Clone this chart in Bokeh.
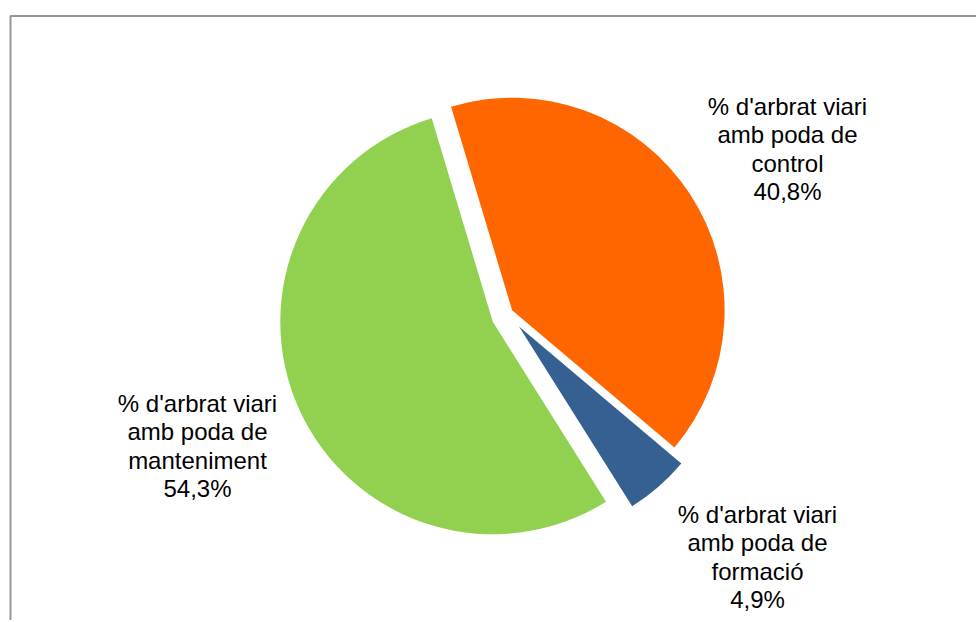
import numpy as np
from bokeh.plotting import figure
from bokeh.models import ColumnDataSource, Range1d
from bokeh.embed import file_html
from bokeh.resources import INLINE
from bokeh.core.properties import value

# ---- data ----
categories = ["control", "formació", "manteniment"]
label_prefix = ["% d'arbrat viari", "amb poda de"]
shares = [40.8, 4.9, 54.3]
colors = ["#FF6600", "#376092", "#92D050"]

# ---- layout (pixels) ----
W, H = 976, 620
PAGE = 0

def px(x):
    return x - PAGE

def py(y):
    return (H + PAGE) - y

first_angle = -16.7          # degrees clockwise from 12 o'clock
radius = 212.5
base = (492.3, 321.3)        # screen position of pie centre
explode = [22.5, 26.6, 0.0]  # pixels
explode_dir = [59.2, 100.2, 0.0]  # degrees clockwise from 12 o'clock

label_anchor = [(787, 106), (757, 514), (197, 403)]
line_step = 28.4
font = "Liberation Sans"
font_size = "24px"

p = figure(width=W, height=H, x_range=Range1d(0, W), y_range=Range1d(0, H),
           output_backend="svg", toolbar_location=None, min_border=0,
           x_axis_type=None, y_axis_type=None)
p.grid.visible = False
p.outline_line_color = None
p.background_fill_color = "white"
p.border_fill_color = "white"

# chart border (left and top sides visible)
p.line(x=[px(10), px(10), px(990)], y=[py(640), py(15.5), py(15.5)],
       line_color="#969696", line_width=2)

vals = np.array(shares, dtype=float)
cum = np.concatenate([[0.0], np.cumsum(vals)]) / vals.sum() * 360.0 + first_angle
starts = np.radians(90.0 - cum[:-1])
ends = np.radians(90.0 - cum[1:])
ed = np.radians(explode_dir)
cx = px(base[0]) + np.array(explode) * np.sin(ed)
cy = py(base[1]) + np.array(explode) * np.cos(ed)

src = ColumnDataSource(dict(x=cx, y=cy, start=starts, end=ends, color=colors,
                            cat=categories))
p.wedge(x="x", y="y", radius=radius, start_angle="start", end_angle="end",
        direction="clock", fill_color="color", line_color=None, source=src)

tx, ty, tt = [], [], []
for i, cat in enumerate(categories):
    lines = label_prefix + [cat, f"{shares[i]:.1f}".replace(".", ",") + "%"]
    ax, ay = label_anchor[i]
    for k, ln in enumerate(lines):
        tx.append(px(ax))
        ty.append(py(ay + k * line_step))
        tt.append(ln)

p.text(x=tx, y=ty, text=tt, text_font=value(font), text_font_size=value(font_size),
       text_align="center", text_baseline="middle", text_color="#000000")

open("out.html", "w").write(file_html(p, INLINE))
